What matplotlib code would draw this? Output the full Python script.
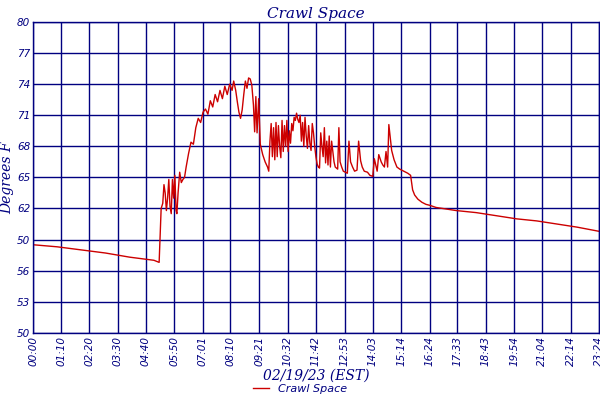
import matplotlib
matplotlib.use("Agg")
import matplotlib.pyplot as plt

minutes = [0,60,120,180,240,300,313,
 315,318,322,325,328,331,334,337,340,343,346,349,352,355,357,360,364,368,372,376,
 380,386,392,398,404,410,416,422,428,434,440,446,452,458,464,470,476,482,488,494,498,
 503,507,511,515,519,523,527,531,535,539,543,547,550,553,556,560,564,570,576,582,585,
 588,591,594,597,600,603,606,609,612,615,618,621,624,627,630,633,636,639,642,645,648,
 651,654,657,660,663,666,669,672,675,678,681,684,687,690,693,696,699,702,705,708,711,
 714,717,720,723,726,729,732,735,738,741,744,747,750,753,756,759,762,766,770,775,780,
 784,788,793,798,804,808,813,817,822,830,836,843,847,850,854,858,864,868,872,876,880,
 883,886,890,896,903,910,920,930,937,942,947,955,965,975,985,1000,1050,1100,1150,1200,
 1250,1300,1350,1404]
temps = [58.5,58.3,58.0,57.7,57.3,57.0,56.8,
 59.0,62.0,62.5,64.3,63.5,61.8,63.0,64.8,62.2,61.5,64.8,63.0,65.2,61.8,61.5,63.5,65.5,64.5,64.8,65.0,
 66.0,67.3,68.4,68.2,69.8,70.7,70.3,71.3,71.6,71.1,72.4,71.8,73.0,72.3,73.4,72.6,73.8,73.0,74.0,73.4,74.3,
 73.4,72.3,71.3,70.7,71.5,73.0,74.3,73.6,74.6,74.5,73.9,72.0,69.4,72.8,69.3,72.6,68.2,67.2,66.5,66.0,65.6,
 68.5,70.2,67.0,69.8,66.7,70.3,67.0,70.0,68.0,66.9,70.5,67.5,70.0,68.0,70.5,67.5,69.5,68.3,70.2,69.5,70.8,
 70.5,71.2,70.6,70.3,71.0,68.5,70.3,68.0,70.8,69.0,67.8,70.0,68.3,67.6,70.2,69.3,68.0,67.0,66.3,66.0,65.9,
 69.3,68.0,67.0,69.8,66.4,68.5,66.2,69.0,66.0,68.5,67.5,66.5,66.0,65.9,65.8,69.8,66.5,66.0,65.6,65.5,65.4,
 68.5,66.5,66.0,65.6,65.7,68.5,66.6,66.0,65.6,65.5,65.2,65.1,66.8,66.3,65.6,67.2,66.5,66.2,66.0,67.5,66.0,
 70.1,69.0,67.6,66.7,66.0,65.8,65.6,65.4,65.2,63.8,63.3,62.9,62.6,62.4,62.3,62.1,61.8,61.6,61.3,61.0,
 60.8,60.5,60.2,59.8]

xticks = [0,70,140,210,280,350,421,490,561,632,702,773,843,914,984,1053,1123,1194,1264,1334,1404]
xlabels = ["00:00","01:10","02:20","03:30","04:40","05:50","07:01","08:10","09:21","10:32","11:42",
           "12:53","14:03","15:14","16:24","17:33","18:43","19:54","21:04","22:14","23:24"]
yticks = [50,53,56,59,62,65,68,71,74,77,80]
ylabels = ["50","53","56","50","62","65","68","71","74","77","80"]

navy = "#000080"
fig = plt.figure(figsize=(6,4), dpi=100)
ax = fig.add_axes([0.055, 0.168, 0.943, 0.777])
ax.plot(minutes, temps, color="#cc0000", lw=1.0, label="Crawl Space")
ax.set_xlim(0,1404); ax.set_ylim(50,80)
ax.set_xticks(xticks); ax.set_xticklabels(xlabels, rotation=90, fontsize=7.5, style="italic", color=navy)
ax.set_yticks(yticks); ax.set_yticklabels(ylabels, fontsize=7.5, style="italic", color=navy)
ax.tick_params(length=0, pad=2)
ax.grid(True, color=navy, lw=1.0)
for s in ax.spines.values():
    s.set_color(navy); s.set_linewidth(1.0)
ax.set_title("Crawl Space", fontsize=11, style="italic", color=navy, pad=3, family="DejaVu Serif")
ax.set_ylabel("Degrees F", fontsize=10, style="italic", color=navy, family="DejaVu Serif", labelpad=2)
ax.set_xlabel("02/19/23 (EST)", fontsize=10, style="italic", color=navy, family="DejaVu Serif", labelpad=2)
leg = fig.legend(loc="lower center", bbox_to_anchor=(0.5, -0.01), frameon=False, fontsize=8, handlelength=1.5)
for t in leg.get_texts():
    t.set_color(navy); t.set_style("italic")
fig.savefig("out.png", dpi=100)
